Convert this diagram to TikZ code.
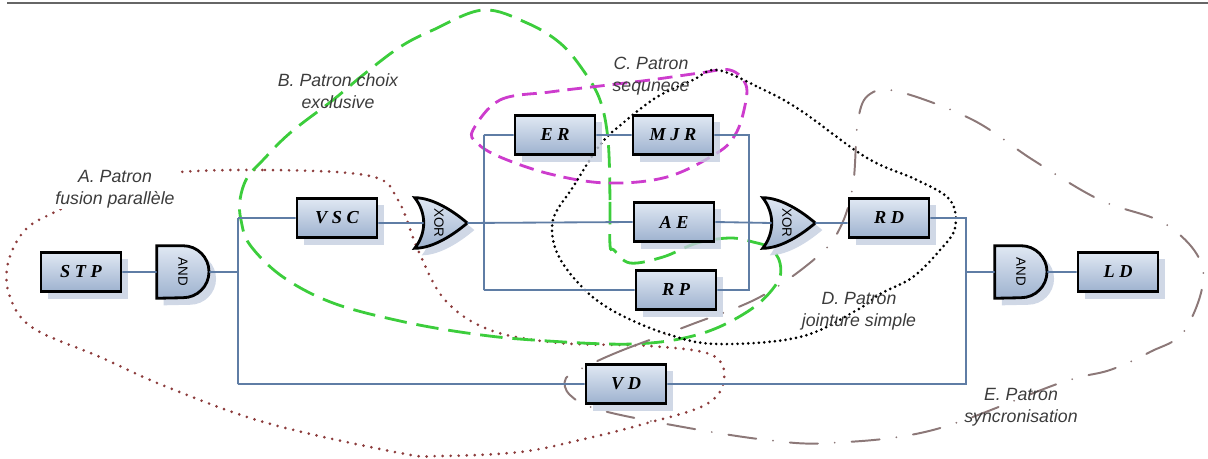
\documentclass[tikz,border=0pt]{standalone}
\usepackage{fontspec}
\setmainfont{Liberation Serif}
\setsansfont{Liberation Sans}
\usetikzlibrary{calc,shadows}

\definecolor{wirecol}{RGB}{95,125,165}
\definecolor{boxtop}{RGB}{224,232,243}
\definecolor{boxbot}{RGB}{158,178,207}
\definecolor{shadowcol}{RGB}{196,206,224}
\definecolor{labcol}{RGB}{60,60,60}
\definecolor{colA}{RGB}{140,60,60}
\definecolor{colB}{RGB}{60,205,60}
\definecolor{colC}{RGB}{205,60,205}
\definecolor{colE}{RGB}{140,120,120}

\tikzstyle{boxstyle} = [draw=black, line width=2pt, top color=boxtop, bottom color=boxbot,
  minimum width=2cm, minimum height=0.98cm, inner sep=0,
  font=\fontsize{13}{15}\selectfont\bfseries\itshape,
  drop shadow={shadow xshift=5pt, shadow yshift=-5pt, fill=shadowcol, opacity=0.8}]
\tikzstyle{gatestyle} = [minimum width=1.3cm, minimum height=1.3cm, inner sep=0]
\tikzstyle{gatebody} = [draw=black, line width=2pt, top color=boxtop, bottom color=boxbot,
  drop shadow={shadow xshift=5pt, shadow yshift=-5pt, fill=shadowcol, opacity=0.8}]
\tikzstyle{gatetext} = [inner sep=0, font=\sffamily\fontsize{9.5}{11}\selectfont]
\tikzstyle{wire} = [draw=wirecol, line width=1.3pt]
\tikzstyle{labelstyle} = [align=center, text=labcol, inner sep=1pt,
  font=\sffamily\itshape\fontsize{12.6}{15.6}\selectfont]

\begin{document}
\begin{tikzpicture}[x=0.025cm, y=-0.025cm]
  \useasboundingbox (0,0) rectangle (1208,459);
  \draw[gray!80!black, line width=1.5pt] (7,3) -- (1208,3);

  % pattern regions
  \draw[colA, line width=2.1pt, line cap=round, dash pattern=on 0pt off 5.7pt]
    plot[smooth cycle, tension=0.6] coordinates {(160,174) (265,170) (370,176) (398,200)
      (418,250) (445,300) (490,330) (560,343) (650,346) (712,355) (724,380) (705,405)
      (640,425) (580,440) (520,452) (440,456) (400,453) (267,423) (167,387) (100,357)
      (33,328) (10,297) (8,263) (25,230) (55,212) (100,192)};
  \draw[colB, line width=2pt, dash pattern=on 16pt off 7pt]
    plot[smooth cycle, tension=0.6] coordinates {(610,245) (610,200) (608,140) (600,100)
      (583,70) (560,43) (527,23) (483,10) (433,30) (400,47) (363,75) (333,100) (290,133)
      (263,160) (247,178) (240,200) (241,220) (250,245) (283,277) (333,303) (400,321)
      (467,333) (533,340) (633,344) (700,334) (750,310) (777,283) (780,263) (770,248)
      (753,242) (730,238) (697,243) (663,257) (630,263) (614,250)};
  \draw[colC, line width=2pt, dash pattern=on 10.5pt off 5.7pt]
    plot[smooth cycle, tension=0.6] coordinates {(473,130) (500,100) (550,92) (600,86)
      (650,80) (700,73) (730,70) (746,85) (744,110) (735,135) (717,153) (667,177)
      (607,183) (550,174) (500,157) (477,143)};
  \draw[black, line width=2.1pt, line cap=round, dash pattern=on 0pt off 3.8pt]
    plot[smooth cycle, tension=0.6] coordinates {(717,70) (760,88) (800,110) (867,158)
      (917,180) (950,200) (955,228) (940,250) (913,277) (880,294) (857,310) (800,337)
      (717,344) (667,334) (617,313) (585,290) (558,255) (553,220) (573,187) (600,145)
      (623,123) (657,97) (693,80)};
  \draw[colE, line width=1.4pt, line cap=round, dash pattern=on 20pt off 12pt on 0pt off 12pt]
    plot[smooth cycle, tension=0.6] coordinates {(587,366) (623,350) (690,325) (760,297)
      (817,257) (840,228) (853,185) (858,120) (870,94) (900,92) (973,120) (1033,160)
      (1100,200) (1167,225) (1203,270) (1185,330) (1150,352) (1110,370) (1060,383)
      (933,430) (830,443) (767,440) (683,427) (600,410) (570,395) (566,378)};

  % labels
  \node at (115,189) [labelstyle, fill=white] (labA) {A. Patron\\fusion parallèle};
  \node at (338,91) [labelstyle] (labB) {B. Patron choix\\exclusive};
  \node at (651,76) [labelstyle] (labC) {C. Patron\\sequnece};
  \node at (859,311) [labelstyle] (labD) {D. Patron\\jointure simple};
  \node at (1021,407) [labelstyle] (labE) {E. Patron\\syncronisation};

  % activities
  \node at (81,272) [boxstyle] (STP) {S T P};
  \node at (337,218) [boxstyle] (VSC) {V S C};
  \node at (555,135) [boxstyle] (ER) {E R};
  \node at (673,135) [boxstyle] (MJR) {M J R};
  \node at (674,222) [boxstyle] (AE) {A E};
  \node at (676,290) [boxstyle] (RP) {R P};
  \node at (889,218) [boxstyle] (RD) {R D};
  \node at (1118,272) [boxstyle] (LD) {L D};
  \node at (626,384) [boxstyle] (VD) {V D};

  % gates
  \node at (183,272) [gatestyle] (A1) {};
  \node at (1021,272) [gatestyle] (A2) {};
  \node at (441,223) [gatestyle, minimum height=1.25cm] (X1) {};
  \node at (789,223) [gatestyle, minimum height=1.25cm] (X2) {};

  \path[gatebody] (A1.south west) -- (A1.north west) -- (A1.north)
    arc[start angle=90, end angle=-90, radius=0.65cm] -- cycle;
  \path[gatebody] (A2.south west) -- (A2.north west) -- (A2.north)
    arc[start angle=90, end angle=-90, radius=0.65cm] -- cycle;
  \path[gatebody] (X1.north west) .. controls ($(X1.north west)+(0.45cm,0)$) and ($(X1.east)+(-0.35cm,0.3cm)$) .. (X1.east)
    .. controls ($(X1.east)+(-0.35cm,-0.3cm)$) and ($(X1.south west)+(0.45cm,0)$) .. (X1.south west)
    .. controls ($(X1.west)+(0.3cm,-0.25cm)$) and ($(X1.west)+(0.3cm,0.25cm)$) .. (X1.north west) -- cycle;
  \path[gatebody] (X2.north west) .. controls ($(X2.north west)+(0.45cm,0)$) and ($(X2.east)+(-0.35cm,0.3cm)$) .. (X2.east)
    .. controls ($(X2.east)+(-0.35cm,-0.3cm)$) and ($(X2.south west)+(0.45cm,0)$) .. (X2.south west)
    .. controls ($(X2.west)+(0.3cm,-0.25cm)$) and ($(X2.west)+(0.3cm,0.25cm)$) .. (X2.north west) -- cycle;

  \node at (A1) [gatetext] (A1t) {\rotatebox{-90}{AND}};
  \node at (A2) [gatetext] (A2t) {\rotatebox{-90}{AND}};
  \node at ($(X1)+(-0.05cm,0)$) [gatetext] (X1t) {\rotatebox{-90}{XOR}};
  \node at ($(X2)+(-0.05cm,0)$) [gatetext] (X2t) {\rotatebox{-90}{XOR}};

  % junctions
  \coordinate (X1in) at ($(X1.west)+(0.22cm,0)$);
  \coordinate (X2in) at ($(X2.west)+(0.22cm,0)$);
  \coordinate (jA) at (238,272);
  \coordinate (jT) at (238,218);
  \coordinate (jB) at (238,384);
  \coordinate (jX) at (484,222);
  \coordinate (jXt) at (484,135);
  \coordinate (jXb) at (484,290);
  \coordinate (jMt) at (749,135);
  \coordinate (jMb) at (749,290);
  \coordinate (jR) at (966,218);
  \coordinate (jRm) at (966,272);
  \coordinate (jRb) at (966,384);

  % wires
  \path[wire]
     (STP) -- (A1)
     (A1.east) -- (jA)
     (jT) -- (jB)
     (jT) -- (VSC.west)
     (jB) -- (VD.west)
     (VSC.east |- X1in) -- (X1in)
     (X1.east) -- (AE.west)
     (jXt) -- (jXb)
     (jXt) -- (ER.west)
     (jXb) -- (RP.west)
     (ER) -- (MJR)
     (MJR.east) -- (jMt) -- (jMb) -- (RP.east)
     (AE.east) -- (X2in)
     (X2.east) -- (X2.east -| RD.west)
     (RD.east) -- (jR) -- (jRb) -- (VD.east)
     (jRm) -- (A2.west)
     (A2.east) -- (LD.west);
\end{tikzpicture}
\end{document}
